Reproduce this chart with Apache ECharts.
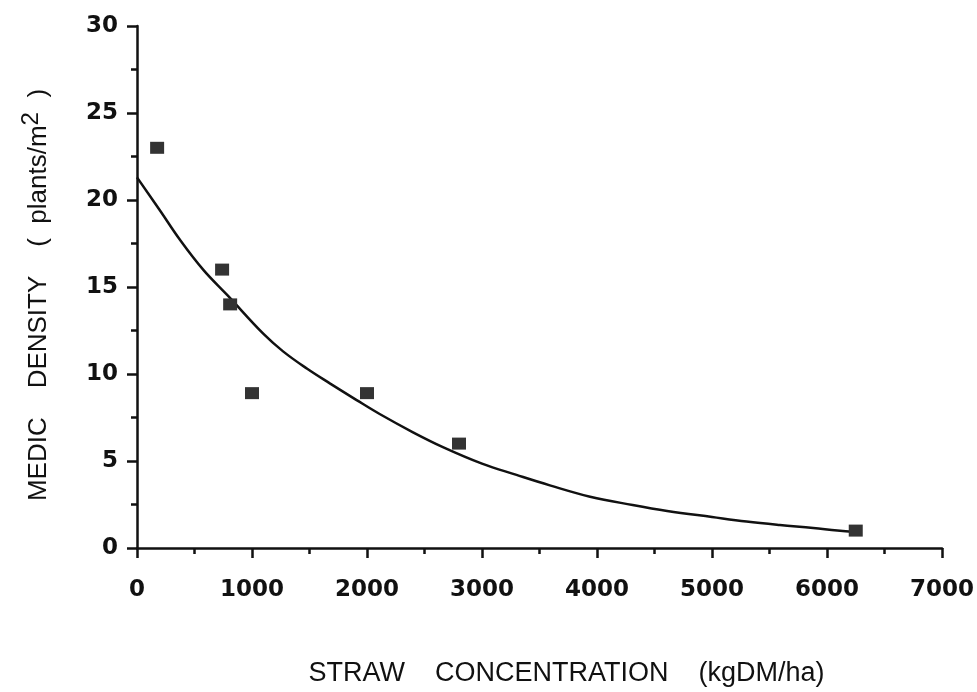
<!DOCTYPE html>
<html>
<head>
<meta charset="utf-8">
<script src="https://cdn.jsdelivr.net/npm/echarts@6/dist/echarts.min.js"></script>
<style>html,body{margin:0;padding:0;background:#fff}#c{width:977px;height:692px}</style>
</head>
<body>
<div id="c"></div>
<script>
// Observed data points (straw kgDM/ha, medic plants/m2)
const obsX = [175, 740, 810, 1000, 2000, 2800, 6250];
const obsY = [23, 16, 14, 8.9, 8.9, 6, 1];
// Fitted curve
const fitX = [0, 200, 375, 575, 790, 1100, 1270, 1480, 1680, 1910, 2110, 2400, 2660, 3000, 3300, 3590, 3940, 4310, 4610, 5000, 5300, 5590, 5880, 6090, 6250];
const fitY = [21.3, 19.4, 17.7, 16.0, 14.5, 12.3, 11.3, 10.3, 9.45, 8.5, 7.7, 6.65, 5.8, 4.85, 4.2, 3.6, 2.95, 2.47, 2.13, 1.78, 1.52, 1.32, 1.15, 1.0, 0.92];
const xTicks = [0, 1000, 2000, 3000, 4000, 5000, 6000, 7000];
const yTicks = [0, 5, 10, 15, 20, 25, 30];
const xTitle = 'STRAW    CONCENTRATION    (kgDM/ha)';
const yTitle = 'MEDIC    DENSITY    (  plants/m{s|2}  )';

const chart = echarts.init(document.getElementById('c'));
const font = 'Liberation Sans, Arial, Helvetica, sans-serif';
const numFont = 'DejaVu Sans, sans-serif';
chart.setOption({
  animation: false,
  backgroundColor: '#fff',
  grid: { left: 137, right: 35, top: 26, bottom: 144, containLabel: false, outerBoundsMode: 'none' },
  xAxis: {
    type: 'value', min: xTicks[0], max: xTicks[xTicks.length - 1], interval: 1000,
    splitLine: { show: false },
    axisLine: { lineStyle: { color: '#111', width: 2.5 } },
    axisTick: { length: 10, lineStyle: { color: '#111', width: 2.5 } },
    minorTick: { show: true, splitNumber: 2, length: 6, lineStyle: { color: '#111', width: 2.5 } },
    axisLabel: { color: '#111', fontFamily: numFont, fontWeight: 'bold', fontSize: 23, margin: 31, formatter: v => String(v) },
    name: xTitle, nameLocation: 'middle', nameGap: 112,
    nameTextStyle: { color: '#111', fontFamily: font, fontSize: 27, padding: [0, 0, 0, 54] }
  },
  yAxis: {
    type: 'value', min: yTicks[0], max: yTicks[yTicks.length - 1], interval: 5,
    splitLine: { show: false },
    axisLine: { lineStyle: { color: '#111', width: 2.5 } },
    axisTick: { length: 10, lineStyle: { color: '#111', width: 2.5 } },
    minorTick: { show: true, splitNumber: 2, length: 6, lineStyle: { color: '#111', width: 2.5 } },
    axisLabel: { color: '#111', fontFamily: numFont, fontWeight: 'bold', fontSize: 23, margin: 19, formatter: v => String(v) },
    name: yTitle, nameLocation: 'middle', nameGap: 78,
    nameTextStyle: { color: '#111', fontFamily: font, fontSize: 26, padding: [0, 16, 0, 0],
      rich: { s: { fontFamily: font, fontSize: 24, color: '#111', padding: [0, 0, 16, 0] } } }
  },
  series: [
    { type: 'line', data: fitX.map((x, i) => [x, fitY[i]]), smooth: 0.4, symbol: 'none',
      lineStyle: { color: '#111', width: 2.5 }, z: 2 },
    { type: 'scatter', data: obsX.map((x, i) => [x, obsY[i]]), symbol: 'rect', symbolSize: [14, 12],
      itemStyle: { color: '#333', opacity: 1 }, z: 3 }
  ]
});
</script>
</body>
</html>
